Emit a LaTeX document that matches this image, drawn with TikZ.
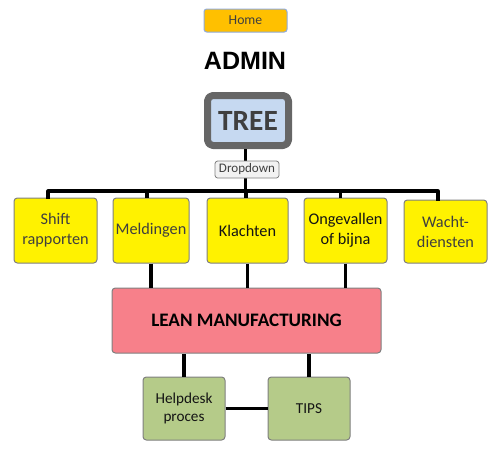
\documentclass[tikz,border=0pt]{standalone}
\usepackage{fontspec}
\setmainfont{Carlito}
\newfontfamily\headfont{Liberation Sans}
\usetikzlibrary{positioning}
\definecolor{homeOrange}{HTML}{FFC000}
\definecolor{homeEdge}{HTML}{8FAADC}
\definecolor{treeBlue}{HTML}{C6D9F1}
\definecolor{treeGray}{HTML}{666666}
\definecolor{boxYellow}{HTML}{FFF200}
\definecolor{leanPink}{HTML}{F7808A}
\definecolor{tipGreen}{HTML}{B5CB89}
\definecolor{edgeGray}{HTML}{7F7F7F}
\definecolor{txtGray}{HTML}{3F3F3F}
\definecolor{txtDark}{HTML}{141414}

\begin{document}
\begin{tikzpicture}[x=0.75pt,y=-0.75pt,line join=round,
    card/.style={draw=edgeGray,line width=0.75pt,rounded corners=2.5pt,
                 inner sep=0pt,align=center,minimum height=48.75pt,
                 font=\fontsize{12.2}{15}\selectfont},
    topic/.style={card,fill=boxYellow},
    link/.style={line width=2.4pt}]
    \useasboundingbox (0,0) rectangle (500,450);
    % header
    \node[draw=homeEdge,fill=homeOrange,rounded corners=2pt,line width=0.75pt,
          minimum width=62.25pt,minimum height=17.25pt,inner sep=0pt,
          text=txtGray,font=\fontsize{10.3}{11}\selectfont] (home) at (245.5,20.5) {Home};
    \node[font=\headfont\bfseries\fontsize{18.8}{20}\selectfont] (admin) at (245,61) {ADMIN};
    \node[draw=treeGray,fill=treeBlue,line width=5.25pt,rounded corners=4pt,
          minimum width=60.75pt,minimum height=37.5pt,inner sep=0pt,
          text=txtGray,font=\bfseries\fontsize{22}{24}\selectfont] (tree) at (248,120.5) {TREE};
    % topic row
    \node[topic,minimum width=62.25pt,text=txtGray] (shift) at (55.5,230.5) {Shift\\rapporten};
    \node[topic,minimum width=57pt,text=txtGray] (meld) at (151,230.5) {Meldingen};
    \node[topic,minimum width=60.75pt,text=txtDark] (klacht) at (247.5,230.5) {Klachten};
    \node[topic,minimum width=62.25pt,text=txtDark] (ongev) at (345.5,230.5) {Ongevallen\\of bijna};
    \node[topic,minimum width=62.25pt,minimum height=47.25pt,text=txtGray] (wacht) at (445.5,231.5) {Wacht-\\diensten};
    % lean block and the two below it
    \node[card,fill=leanPink,minimum width=201.75pt,text=black,
          font=\bfseries\fontsize{14.3}{16}\selectfont] (lean) at (246.5,320.5) {LEAN MANUFACTURING};
    \node[card,fill=tipGreen,minimum width=61.5pt,minimum height=47.25pt,text=txtDark,
          font=\fontsize{11.4}{14}\selectfont] (help) at (184,408.5) {Helpdesk\\proces};
    \node[card,fill=tipGreen,minimum width=61.5pt,minimum height=47.25pt,text=txtDark,
          font=\fontsize{11.4}{14}\selectfont] (tips) at (309,408.5) {TIPS};
    % bus from tree to the topics
    \coordinate (bar) at (245,191);
    \draw[link] ([xshift=-1.9pt]tree.south) -- ([xshift=-1.9pt]tree.south |- bar);
    \draw[link,line cap=rect] ([xshift=-5.6pt]shift.north) |- (bar)
        -| ([xshift=-5.6pt]wacht.north);
    \foreach \n/\s in {meld/-3pt,klacht/-1.1pt,ongev/-4pt}
       \draw[link] ([xshift=\s]\n.north) -- ([xshift=\s]\n.north |- bar);
    \foreach \n in {meld,klacht,ongev}
       \draw[link] (\n.south) -- (\n.south |- lean.north);
    \foreach \n in {help,tips}
       \draw[link] (\n.north) -- (\n.north |- lean.south);
    \draw[link] (help) -- (tips);
    \node[draw=edgeGray,fill=gray!10,rounded corners=2pt,line width=0.6pt,
          minimum width=48pt,minimum height=12.75pt,inner sep=0pt,
          text=txtGray,font=\fontsize{9.8}{11}\selectfont] (drop) at (247,169.5) {Dropdown};
\end{tikzpicture}
\end{document}
